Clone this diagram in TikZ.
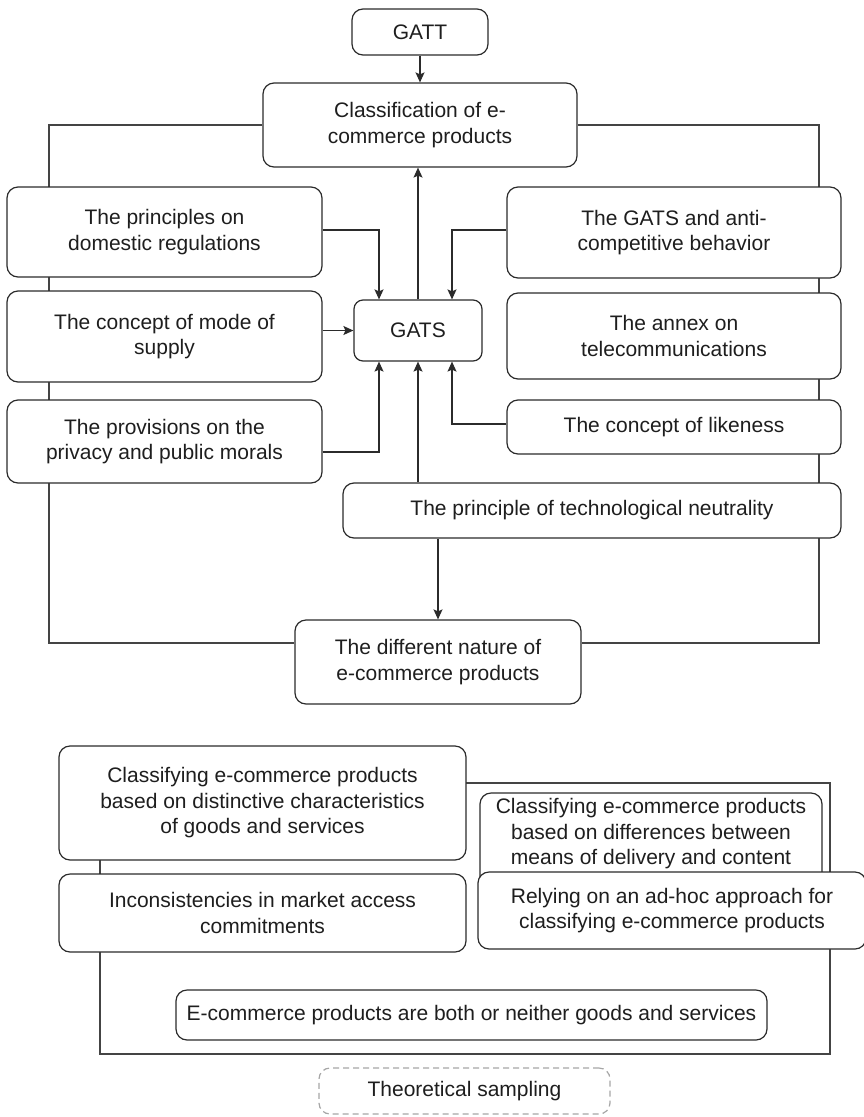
\documentclass[tikz,border=0pt]{standalone}
\usepackage{fontspec}
\setmainfont{Liberation Sans}
\usetikzlibrary{arrows.meta,backgrounds}
\definecolor{ink}{HTML}{1E1E1E}
\definecolor{edge}{HTML}{2B2B2B}
\definecolor{fedge}{HTML}{444444}
\begin{document}
\begin{tikzpicture}[x=1pt,y=-1pt,
  box/.style={draw=edge, line width=1.2pt, rounded corners=11pt, fill=white,
    align=center, inner sep=0pt, text=ink,
    font=\fontsize{21}{25.5}\selectfont},
  plain/.style={align=center, inner sep=0pt, text=ink,
    font=\fontsize{21}{25.5}\selectfont},
  dashbox/.style={box, draw=gray!70, dash pattern=on 6pt off 4pt},
  arr/.style={draw=edge, line width=1.2pt, -{Stealth[length=10pt,width=9pt,inset=2pt]}},
  frame/.style={draw=fedge, line width=1.2pt}]
\useasboundingbox (0,0) rectangle (864,1117);

% upper part
\node[box, minimum width=136pt, minimum height=46pt] (gatt) at (420,32) {GATT};
\node[box, minimum width=314pt, minimum height=84pt] (class) at (420,125) {Classification of e-\\commerce products};
\node[box, minimum width=315pt, minimum height=90pt] (princ) at (164.5,232) {The principles on\\domestic regulations};
\node[box, minimum width=334pt, minimum height=91pt] (anti) at (674,232.5) {The GATS and anti-\\competitive behavior};
\node[box, minimum width=315pt, minimum height=91pt] (mode) at (164.5,336.5) {The concept of mode of\\supply};
\node[box, rounded corners=9pt, minimum width=128pt, minimum height=61pt] (gats) at (418,330.5) {GATS};
\node[box, minimum width=334pt, minimum height=86pt] (annex) at (674,336) {The annex on\\telecommunications};
\node[box, minimum width=315pt, minimum height=83pt] (prov) at (164.5,441.5) {The provisions on the\\privacy and public morals};
\node[box, minimum width=334pt, minimum height=54pt] (like) at (674,427) {The concept of likeness};
\node[box, minimum width=498pt, minimum height=55pt] (tech) at (592,510.5) {The principle of technological neutrality};
\node[box, minimum width=286pt, minimum height=84pt] (nature) at (438,662) {The different nature of\\e-commerce products};

% lower part
\node[box, minimum width=407pt, minimum height=114pt] (dist) at (262.5,803) {Classifying e-commerce products\\based on distinctive characteristics\\of goods and services};
\node[box, minimum width=342pt, minimum height=96pt] (diff) at (651,841) {};
\node[plain] (difft) at (651,834) {Classifying e-commerce products\\based on differences between\\means of delivery and content};
\node[box, minimum width=407pt, minimum height=78pt] (incons) at (262.5,913) {Inconsistencies in market access\\commitments};
\node[box, minimum width=388pt, minimum height=77pt] (rely) at (672,910.5) {Relying on an ad-hoc approach for\\classifying e-commerce products};
\node[box, minimum width=591pt, minimum height=50pt] (both) at (471.5,1015) {E-commerce products are both or neither goods and services};
\node[dashbox, minimum width=291pt, minimum height=46pt] (theo) at (464.5,1091) {Theoretical sampling};

% frames behind the boxes
\begin{scope}[on background layer]
  \coordinate (fl) at (49,643);
  \coordinate (fr) at (819,643);
  \draw[frame] (class.west) -| (fl) -- (fl -| nature.west);
  \draw[frame] (class.east) -| (fr) -- (fr -| nature.east);
  \draw[frame] (100,783) rectangle (830,1054);
\end{scope}

% connectors
\draw[arr] (gatt.south) -- (gatt.south |- class.north);
\draw[arr] (gats.north) -- (gats.north |- class.south);
\draw[arr] ([yshift=2pt]princ.east) -| ([xshift=-39pt]gats.north);
\draw[arr] ([yshift=2.5pt]anti.west) -| ([xshift=34pt]gats.north);
\draw[arr] (mode.east |- gats.west) -- (gats.west);
\draw[arr] ([yshift=-10.5pt]prov.east) -| ([xshift=-39pt]gats.south);
\draw[arr] ([yshift=3pt]like.west) -| ([xshift=34pt]gats.south);
\draw[arr] (gats.south |- tech.north) -- (gats.south);
\draw[arr] (nature.north |- tech.south) -- (nature.north);
\end{tikzpicture}
\end{document}
